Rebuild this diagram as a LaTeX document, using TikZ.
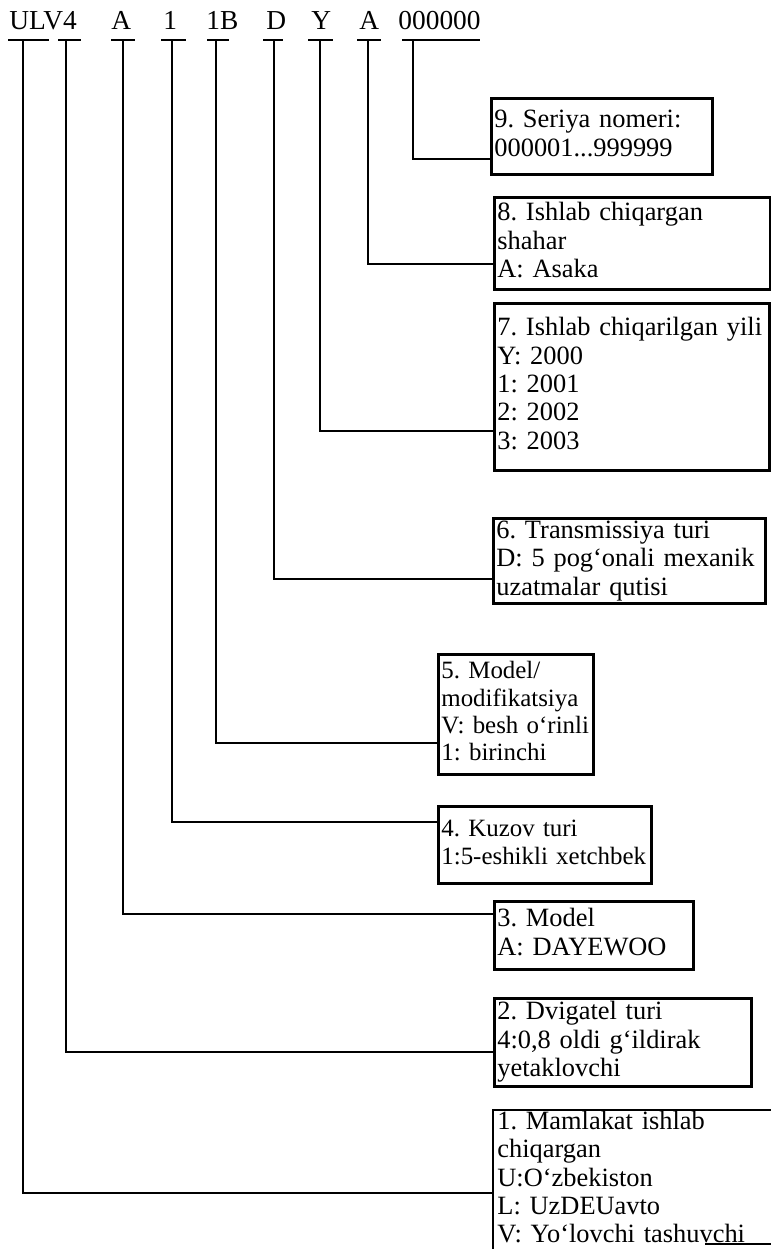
\documentclass[tikz,border=0pt]{standalone}
\usepackage{fontspec}
\setmainfont{Liberation Serif}
\frenchspacing
% one box line per row, never re-wrapped
\newcommand{\vinlines}[1]{\begin{tabular}{@{}l@{}}#1\end{tabular}}
\begin{document}
\begin{tikzpicture}[x=1bp,y=-1bp,line width=2.8bp,
  txt/.style={font=\fontsize{26.5}{28.5}\selectfont},
  small/.style={font=\fontsize{25}{27.5}\selectfont},
  box/.style={txt,draw,rectangle,anchor=north west,inner xsep=3bp,inner ysep=0bp,align=left},
  code/.style={font=\fontsize{27.5}{28.5}\selectfont,anchor=base west,inner sep=0bp}]
\useasboundingbox (0,0) rectangle (771,1249);

% VIN characters along the top
\node[code] (cULV) at (8,29)   {ULV4};
\node[code] (cA)   at (110,29) {A};
\node[code] (c1)   at (162,29) {1};
\node[code] (c1B)  at (205,29) {1B};
\node[code] (cD)   at (265,29) {D};
\node[code] (cY)   at (310,29) {Y};
\node[code] (cA2)  at (358,29) {A};
\node[code] (cN)   at (397,29) {000000};

% bars under the characters and the tops of their leads
\draw (8,40) -- (49,40);    \coordinate (tU) at (23,40);
\draw (58,40) -- (81,40);   \coordinate (t4) at (66,40);
\draw (111,40) -- (135,40); \coordinate (tA) at (123,40);
\draw (161,40) -- (186,40); \coordinate (t1) at (172,40);
\draw (207,40) -- (229,40); \coordinate (t1B) at (216,40);
\draw (263,40) -- (283,40); \coordinate (tD) at (274,40);
\draw (308,40) -- (333,40); \coordinate (tY) at (320,40);
\draw (357,40) -- (381,40); \coordinate (tA2) at (368,40);
\draw (402,40) -- (480,40); \coordinate (tN) at (413,40);

% explanation boxes
\node[box,text width=215bp,minimum height=76bp] (b9) at (490,97)
  {\vinlines{9. Seriya nomeri:\\000001...999999}};
\node[box,text width=270bp,minimum height=92bp] (b8) at (493,196)
  {\vinlines{8. Ishlab chiqargan\\shahar\\A: Asaka}};
\node[box,text width=269bp,minimum height=167bp] (b7) at (493,302)
  {\vinlines{7. Ishlab chiqarilgan yili\\Y: 2000\\1: 2001\\2: 2002\\3: 2003}};
\node[box,text width=266bp,minimum height=85bp] (b6) at (492,517)
  {\vinlines{6. Transmissiya turi\\D: 5 pog‘onali mexanik\\uzatmalar qutisi}};
\node[box,small,text width=149bp,minimum height=120bp] (b5) at (437,653)
  {\vinlines{5. Model/\\modifikatsiya\\V: besh o‘rinli\\1: birinchi}};
\node[box,small,text width=207bp,minimum height=77bp] (b4) at (437,805)
  {\vinlines{4. Kuzov turi\\1:5-eshikli xetchbek}};
\node[box,text width=193bp,minimum height=68bp] (b3) at (493,900)
  {\vinlines{3. Model\\A: DAYEWOO}};
\node[box,text width=251bp,minimum height=88bp] (b2) at (493,997)
  {\vinlines{2. Dvigatel turi\\4:0,8 oldi g‘ildirak\\yetaklovchi}};
\node[txt,anchor=north west,inner xsep=3bp,inner ysep=0bp,align=left,text width=270bp] (b1) at (493,1108)
  {\vinlines{1. Mamlakat ishlab\\chiqargan\\U:O‘zbekiston\\L: UzDEUavto\\V: Yo‘lovchi tashuvchi}};
\draw (771,1110) -- (493,1110) coordinate (b1c) -- (b1c |- 0,1249);
\draw (705,1244) -- (771,1244);

% leads from the characters to their boxes
\draw (tN)  |- (b9.west |- 0,159);
\draw (tA2) |- (b8.west |- 0,264);
\draw (tY)  |- (b7.west |- 0,431);
\draw (tD)  |- (b6.west |- 0,579);
\draw (t1B) |- (b5.west |- 0,743);
\draw (t1)  |- (b4.west |- 0,822);
\draw (tA)  |- (b3.west |- 0,914);
\draw (t4)  |- (b2.west |- 0,1052);
\draw (tU)  |- (b1c |- 0,1193);
\end{tikzpicture}
\end{document}
